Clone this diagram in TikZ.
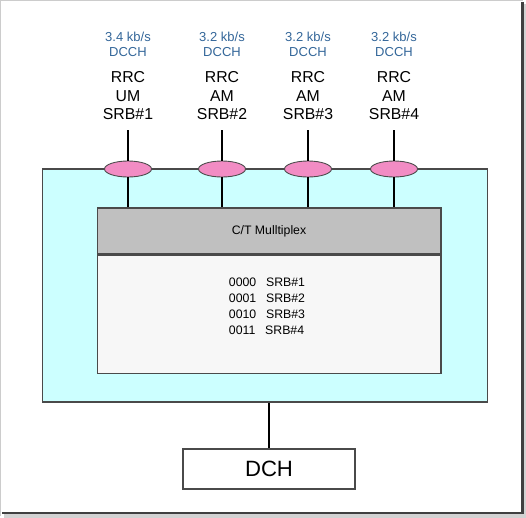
\documentclass[tikz,border=0pt]{standalone}
\usepackage{fontspec}
\setmainfont{Liberation Sans}
\usetikzlibrary{shapes.geometric}

\definecolor{lightcyan}{HTML}{CCFFFF}
\definecolor{muxgray}{HTML}{C0C0C0}
\definecolor{listwhite}{HTML}{F7F7F7}
\definecolor{srbpink}{HTML}{F28CC4}
\definecolor{ratetext}{HTML}{336699}
\definecolor{edge}{HTML}{4A4A4A}

\begin{document}
\begin{tikzpicture}[x=0.02cm, y=-0.02cm,
	every node/.style={font=\small},
	box/.style={draw=edge, line width=0.6pt, inner sep=0pt},
	rate/.style={text=ratetext, font=\fontsize{7.4}{8.6}\selectfont, align=center},
	rb/.style={font=\fontsize{9}{10.5}\selectfont, align=center, inner sep=0.5pt},
	port/.style={ellipse, draw=edge, fill=srbpink, line width=0.5pt, minimum width=0.94cm, minimum height=0.32cm, inner sep=0pt},
	link/.style={line width=1.1pt}]
	\useasboundingbox (0,0) rectangle (526,517);
	% frame
	\draw[gray!40] (0.5,516) -- (0.5,0.5) -- (523,0.5);
	\draw[gray!35, line width=2pt] (525,4) -- (525,516) -- (4,516);
	\draw[black!75, line width=1.2pt] (522.5,2) -- (522.5,513) -- (2,513);
	% boxes
	\node[box, fill=lightcyan, minimum width=8.92cm, minimum height=4.66cm] (outer) at (265,285.5) {};
	\node[box, fill=muxgray, minimum width=6.88cm, minimum height=0.92cm, font=\fontsize{7}{8}\selectfont] (mux) at (269,231) {C/T Mulltiplex};
	\node[box, fill=listwhite, minimum width=6.88cm, minimum height=2.36cm, anchor=north] (list) at (mux.south) {};
	\node[font=\fontsize{7}{9.1}\selectfont, align=left] (codes) at (267,306) {0000\hspace{0.8em}SRB\#1\\0001\hspace{0.8em}SRB\#2\\0010\hspace{0.8em}SRB\#3\\0011\hspace{0.8em}SRB\#4};
	\node[box, fill=white, minimum width=3.44cm, minimum height=0.8cm, font=\fontsize{12.6}{14}\selectfont] (dch) at (269,469) {DCH};
	% radio bearers
	\node[rate] (rate1) at (128,44.5) {3.4 kb/s\\DCCH};
	\node[rate] (rate2) at (222,44.5) {3.2 kb/s\\DCCH};
	\node[rate] (rate3) at (308,44.5) {3.2 kb/s\\DCCH};
	\node[rate] (rate4) at (394,44.5) {3.2 kb/s\\DCCH};
	\node[rb] (rrc1) at (128,96) {RRC\\UM\\SRB\#1};
	\node[rb] (rrc2) at (222,96) {RRC\\AM\\SRB\#2};
	\node[rb] (rrc3) at (308,96) {RRC\\AM\\SRB\#3};
	\node[rb] (rrc4) at (394,96) {RRC\\AM\\SRB\#4};
	\node[port] (e1) at (128,169) {};
	\node[port] (e2) at (222,169) {};
	\node[port] (e3) at (308,169) {};
	\node[port] (e4) at (394,169) {};
	% links
	\draw[link] ([yshift=-5pt]rrc1.south) -- (e1.north) (e1.south) -- (e1.south |- mux.north);
	\draw[link] ([yshift=-5pt]rrc2.south) -- (e2.north) (e2.south) -- (e2.south |- mux.north);
	\draw[link] ([yshift=-5pt]rrc3.south) -- (e3.north) (e3.south) -- (e3.south |- mux.north);
	\draw[link] ([yshift=-5pt]rrc4.south) -- (e4.north) (e4.south) -- (e4.south |- mux.north);
	\draw[link] (dch.north |- outer.south) -- (dch.north);
\end{tikzpicture}
\end{document}
